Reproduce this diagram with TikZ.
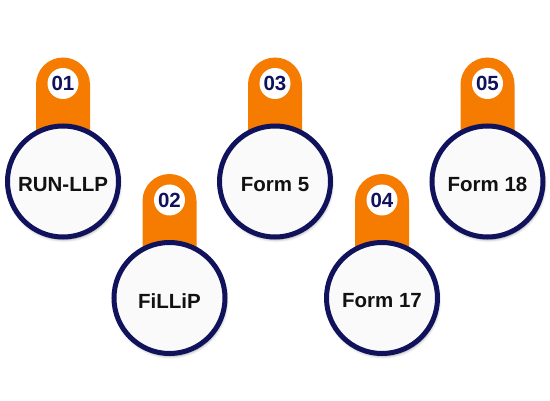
\documentclass[tikz,border=0pt]{standalone}
\usepackage{fontspec}
\setmainfont{Liberation Sans}
\usetikzlibrary{shadows.blur}
\definecolor{orng}{RGB}{245,124,0}
\definecolor{navy}{RGB}{16,18,92}
\definecolor{circfill}{RGB}{250,250,250}
\definecolor{txt}{RGB}{17,17,17}
\tikzset{
  tabshape/.style={fill=orng, rounded corners=27pt},
  bigcirc/.style={circle, draw=navy, line width=5pt, fill=circfill, minimum size=111pt, inner sep=0pt,
    blur shadow={shadow xshift=1pt, shadow yshift=-2.5pt, shadow blur radius=3pt, shadow opacity=45}},
  labeltext/.style={inner sep=0pt, font=\fontsize{20.5}{22}\selectfont\bfseries, text=txt},
  numcirc/.style={circle, fill=white, minimum size=31pt, inner sep=0pt,
    font=\fontsize{20.5}{21}\selectfont\bfseries, text=navy}
}
\begin{document}
\begin{tikzpicture}[x=1pt,y=-1pt]
\useasboundingbox (0,0) rectangle (550,401);
\foreach \i/\cx/\cy/\num/\lab in {1/63/181.5/01/RUN-LLP, 2/169.5/298/02/FiLLiP, 3/275/181.5/03/Form 5, 4/382/298/04/Form 17, 5/487.5/181.5/05/Form 18}{
  \fill[tabshape] (\cx-27,\cy-124) rectangle (\cx+27,\cy);
  \node[numcirc] (n\i) at (\cx,\cy-98) {\num};
  \node[bigcirc] (c\i) at (\cx,\cy) {};
  \node[labeltext] (t\i) at (\cx,\cy+3) {\lab};
}
\end{tikzpicture}
\end{document}
